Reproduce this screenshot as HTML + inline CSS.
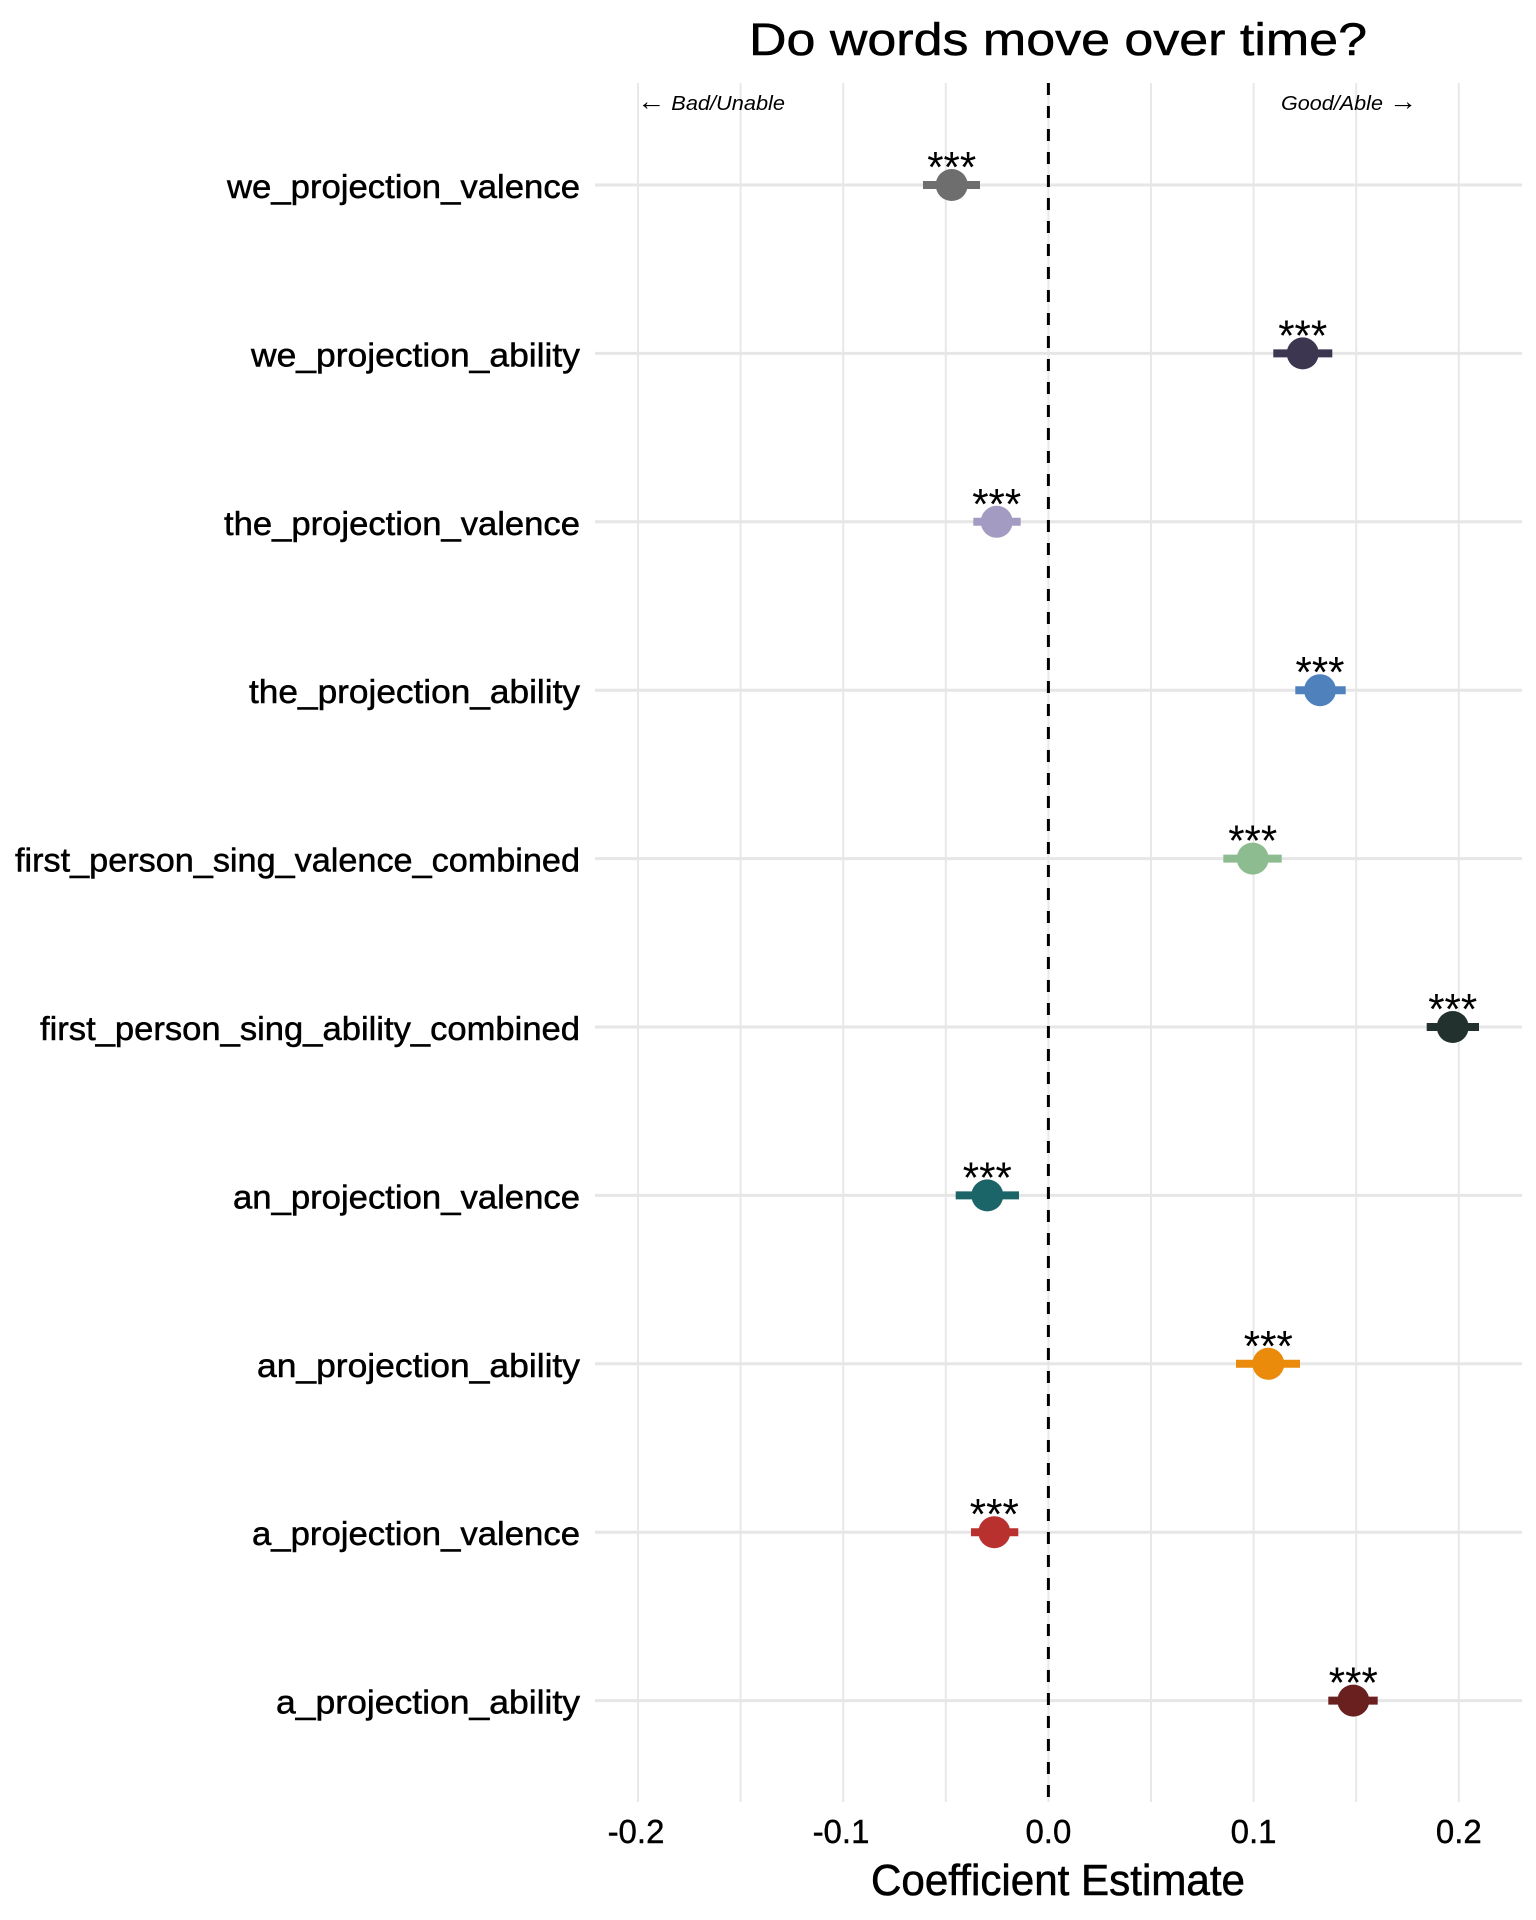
<!DOCTYPE html>
<html>
<head>
<meta charset="utf-8">
<style>
  html, body { margin: 0; padding: 0; background: #ffffff; }
  body { width: 1536px; height: 1920px; overflow: hidden; }
  svg { display: block; }
  .lab { font-family: "Liberation Sans", sans-serif; font-size: 33px; fill: #000; stroke: #000; stroke-width: 0.5px; }
  .tick { font-family: "Liberation Sans", sans-serif; font-size: 33px; fill: #000; stroke: #000; stroke-width: 0.4px; }
  .star { font-family: "Liberation Sans", sans-serif; font-size: 44px; fill: #000; }
  .ann { font-family: "Liberation Sans", sans-serif; font-size: 20px; font-style: italic; fill: #000; }
</style>
</head>
<body>
<svg width="1536" height="1920" viewBox="0 0 1536 1920" xmlns="http://www.w3.org/2000/svg">
  <rect x="0" y="0" width="1536" height="1920" fill="#ffffff"/>

  <!-- Title -->
  <text x="1058" y="55" text-anchor="middle" font-family="Liberation Sans, sans-serif" font-size="45" fill="#000" stroke="#000" stroke-width="0.5" textLength="618" lengthAdjust="spacingAndGlyphs">Do words move over time?</text>

  <!-- vertical gridlines -->
  <g stroke="#e8e8e8" stroke-width="2">
    <line x1="638" y1="83" x2="638" y2="1802"/>
    <line x1="740.6" y1="83" x2="740.6" y2="1802"/>
    <line x1="843.2" y1="83" x2="843.2" y2="1802"/>
    <line x1="945.8" y1="83" x2="945.8" y2="1802"/>
    <line x1="1048.4" y1="83" x2="1048.4" y2="1802"/>
    <line x1="1151" y1="83" x2="1151" y2="1802"/>
    <line x1="1253.6" y1="83" x2="1253.6" y2="1802"/>
    <line x1="1356.2" y1="83" x2="1356.2" y2="1802"/>
    <line x1="1458.8" y1="83" x2="1458.8" y2="1802"/>
  </g>

  <!-- horizontal gridlines -->
  <g stroke="#e6e6e6" stroke-width="3">
    <line x1="595" y1="185" x2="1522" y2="185"/>
    <line x1="595" y1="353.4" x2="1522" y2="353.4"/>
    <line x1="595" y1="521.8" x2="1522" y2="521.8"/>
    <line x1="595" y1="690.2" x2="1522" y2="690.2"/>
    <line x1="595" y1="858.6" x2="1522" y2="858.6"/>
    <line x1="595" y1="1027" x2="1522" y2="1027"/>
    <line x1="595" y1="1195.4" x2="1522" y2="1195.4"/>
    <line x1="595" y1="1363.8" x2="1522" y2="1363.8"/>
    <line x1="595" y1="1532.2" x2="1522" y2="1532.2"/>
    <line x1="595" y1="1700.6" x2="1522" y2="1700.6"/>
  </g>

  <!-- zero line -->
  <line x1="1048.4" y1="83" x2="1048.4" y2="1802" stroke="#000" stroke-width="3" stroke-dasharray="12 11"/>

  <!-- annotations -->
  <text class="ann" x="637" y="110" textLength="148" lengthAdjust="spacingAndGlyphs"><tspan font-size="26" font-style="normal">←</tspan> Bad/Unable</text>
  <text class="ann" x="1417" y="110" text-anchor="end" textLength="136" lengthAdjust="spacingAndGlyphs">Good/Able <tspan font-size="26" font-style="normal">→</tspan></text>

  <!-- y labels -->
  <g class="lab" text-anchor="end">
    <text x="580" y="198" textLength="353" lengthAdjust="spacingAndGlyphs">we_projection_valence</text>
    <text x="580" y="366.4" textLength="329" lengthAdjust="spacingAndGlyphs">we_projection_ability</text>
    <text x="580" y="534.8" textLength="356" lengthAdjust="spacingAndGlyphs">the_projection_valence</text>
    <text x="580" y="703.2" textLength="331" lengthAdjust="spacingAndGlyphs">the_projection_ability</text>
    <text x="580" y="871.6" textLength="565" lengthAdjust="spacingAndGlyphs">first_person_sing_valence_combined</text>
    <text x="580" y="1040" textLength="540" lengthAdjust="spacingAndGlyphs">first_person_sing_ability_combined</text>
    <text x="580" y="1208.4" textLength="347" lengthAdjust="spacingAndGlyphs">an_projection_valence</text>
    <text x="580" y="1376.8" textLength="323" lengthAdjust="spacingAndGlyphs">an_projection_ability</text>
    <text x="580" y="1545.2" textLength="328" lengthAdjust="spacingAndGlyphs">a_projection_valence</text>
    <text x="580" y="1713.6" textLength="304" lengthAdjust="spacingAndGlyphs">a_projection_ability</text>
  </g>

  <!-- error bars + points -->
  <g stroke-width="8" stroke-linecap="butt">
    <line x1="923" y1="185" x2="980" y2="185" stroke="#6e6e6e"/>
    <circle cx="951.7" cy="185" r="16" fill="#6e6e6e" stroke="none"/>

    <line x1="1273.3" y1="353.4" x2="1332.3" y2="353.4" stroke="#3c3650"/>
    <circle cx="1302.7" cy="353.4" r="16" fill="#3c3650" stroke="none"/>

    <line x1="973.3" y1="521.8" x2="1020.7" y2="521.8" stroke="#a39bc1"/>
    <circle cx="996.7" cy="521.8" r="16" fill="#a39bc1" stroke="none"/>

    <line x1="1295.3" y1="690.2" x2="1345.7" y2="690.2" stroke="#4f81bd"/>
    <circle cx="1320" cy="690.2" r="16" fill="#4f81bd" stroke="none"/>

    <line x1="1223.3" y1="858.6" x2="1281.7" y2="858.6" stroke="#8cbc8f"/>
    <circle cx="1252.7" cy="858.6" r="16" fill="#8cbc8f" stroke="none"/>

    <line x1="1426.7" y1="1027" x2="1479" y2="1027" stroke="#22312e"/>
    <circle cx="1452.7" cy="1027" r="16" fill="#22312e" stroke="none"/>

    <line x1="955.7" y1="1195.4" x2="1019" y2="1195.4" stroke="#1b6467"/>
    <circle cx="987.3" cy="1195.4" r="16" fill="#1b6467" stroke="none"/>

    <line x1="1236" y1="1363.8" x2="1300" y2="1363.8" stroke="#ea8b0b"/>
    <circle cx="1268.3" cy="1363.8" r="16" fill="#ea8b0b" stroke="none"/>

    <line x1="971" y1="1532.2" x2="1018.3" y2="1532.2" stroke="#b8312f"/>
    <circle cx="994.3" cy="1532.2" r="16" fill="#b8312f" stroke="none"/>

    <line x1="1328.3" y1="1700.6" x2="1377.7" y2="1700.6" stroke="#6b2020"/>
    <circle cx="1353.3" cy="1700.6" r="16" fill="#6b2020" stroke="none"/>
  </g>

  <!-- significance stars -->
  <g class="star" text-anchor="middle">
    <text x="951.7" y="182" textLength="49" lengthAdjust="spacingAndGlyphs">***</text>
    <text x="1302.7" y="350.4" textLength="49" lengthAdjust="spacingAndGlyphs">***</text>
    <text x="996.7" y="518.8" textLength="49" lengthAdjust="spacingAndGlyphs">***</text>
    <text x="1320" y="687.2" textLength="49" lengthAdjust="spacingAndGlyphs">***</text>
    <text x="1252.7" y="855.6" textLength="49" lengthAdjust="spacingAndGlyphs">***</text>
    <text x="1452.7" y="1024" textLength="49" lengthAdjust="spacingAndGlyphs">***</text>
    <text x="987.3" y="1192.4" textLength="49" lengthAdjust="spacingAndGlyphs">***</text>
    <text x="1268.3" y="1360.8" textLength="49" lengthAdjust="spacingAndGlyphs">***</text>
    <text x="994.3" y="1529.2" textLength="49" lengthAdjust="spacingAndGlyphs">***</text>
    <text x="1353.3" y="1697.6" textLength="49" lengthAdjust="spacingAndGlyphs">***</text>
  </g>

  <!-- x tick labels -->
  <g class="tick" text-anchor="middle">
    <text x="636" y="1843">-0.2</text>
    <text x="841" y="1843">-0.1</text>
    <text x="1048.4" y="1843">0.0</text>
    <text x="1253.6" y="1843">0.1</text>
    <text x="1458.8" y="1843">0.2</text>
  </g>

  <!-- x axis title -->
  <text x="1058" y="1895" text-anchor="middle" font-family="Liberation Sans, sans-serif" font-size="44" fill="#000" stroke="#000" stroke-width="0.6" textLength="374" lengthAdjust="spacingAndGlyphs">Coefficient Estimate</text>
</svg>
</body>
</html>
